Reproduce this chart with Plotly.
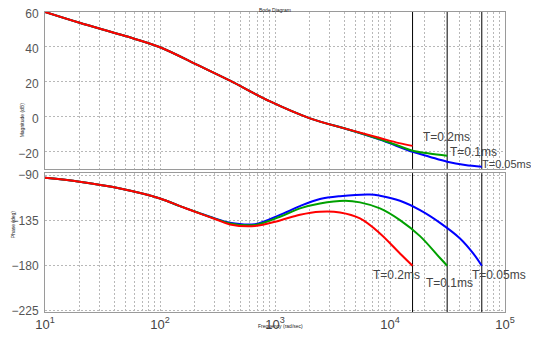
import numpy as np
import plotly.graph_objects as go

# ---------------- data ----------------
T_labels = ["T=0.2ms", "T=0.1ms", "T=0.05ms"]
nyquist_w = [15708, 31416, 62832]          # rad/s (pi/T)

# magnitude (dB)
w_mag_red = [10, 20, 50, 100, 223, 406, 906, 2014, 4487, 8180, 12000, 15708]
mag_red = [60, 53.8, 46.2, 39.8, 28.9, 20.6, 8.7, -1.0, -7.6, -12.3, -15.2, -16.8]

w_mag_green = [10, 20, 50, 100, 223, 406, 906, 2014, 4487, 8180, 12000, 15708, 22000, 31416]
mag_green = [60, 53.8, 46.2, 39.8, 28.9, 20.6, 8.7, -1.0, -7.7, -13.0, -16.9, -19.6, -21.2, -22.4]

w_mag_blue = [10, 20, 50, 100, 223, 406, 906, 2014, 4487, 8180, 15708, 22000, 31416, 45000, 62832]
mag_blue = [60, 53.8, 46.2, 39.8, 28.9, 20.6, 8.7, -1.0, -7.7, -13.2, -20.2, -23.0, -25.9, -27.8, -28.8]

# phase (deg)
w_ph_red = [10, 20, 45, 100, 149, 223, 300, 406, 670, 1104, 1648, 2460, 3673, 5484, 8180, 12210, 15708]
ph_red = [-92.7, -96.6, -103.3, -113.2, -120.8, -128.3, -133.6, -139.0, -140.6, -135.0,
          -129.4, -126.4, -127.1, -133.0, -147.9, -167.8, -180.0]

w_ph_green = [10, 20, 45, 100, 149, 223, 300, 406, 670, 1104, 1648, 2460, 4064, 5484, 8180,
              12210, 18240, 27230, 31416]
ph_green = [-92.7, -96.6, -103.3, -113.2, -120.8, -128.0, -133.2, -138.0, -139.5, -131.4,
            -123.0, -118.1, -115.5, -117.1, -123.1, -134.7, -150.6, -172.4, -180.0]

w_ph_blue = [10, 20, 45, 100, 149, 223, 300, 406, 670, 1104, 1648, 2460, 3673, 6700, 8180,
             12210, 18240, 27230, 40630, 53100, 62832]
ph_blue = [-92.7, -96.6, -103.3, -113.2, -120.8, -128.0, -133.0, -137.4, -138.7, -129.5,
           -120.8, -113.8, -110.9, -109.2, -110.5, -115.5, -124.8, -137.4, -152.9, -168.0, -180.0]

mag_range = [-30, 60]
ph_range = [-226, -88]
mag_ticks = [60, 40, 20, 0, -20]
ph_ticks = [-90, -135, -180, -225]
x_decades = [10, 100, 1000, 10000, 100000]
x_labels = ["10<sup>1</sup>", "10<sup>2</sup>", "10<sup>3</sup>", "10<sup>4</sup>", "10<sup>5</sup>"]

# ---------------- figure ----------------
fig = go.Figure()
FONT = "Liberation Sans, Arial, sans-serif"

series = [
    (w_mag_blue, mag_blue, w_ph_blue, ph_blue, "blue"),
    (w_mag_green, mag_green, w_ph_green, ph_green, "#00a000"),
    (w_mag_red, mag_red, w_ph_red, ph_red, "red"),
]

# nyquist vertical lines
for wn in nyquist_w:
    fig.add_trace(go.Scatter(x=[wn, wn], y=mag_range, mode="lines",
                             line=dict(color="black", width=1),
                             xaxis="x2", yaxis="y2", showlegend=False, hoverinfo="skip"))
    fig.add_trace(go.Scatter(x=[wn, wn], y=ph_range, mode="lines",
                             line=dict(color="black", width=1),
                             xaxis="x", yaxis="y", showlegend=False, hoverinfo="skip"))

for wm, m, wp, p, c in series:
    fig.add_trace(go.Scatter(x=wm, y=m, mode="lines", line=dict(color=c, width=2, shape="spline"),
                             xaxis="x2", yaxis="y2", showlegend=False))
    fig.add_trace(go.Scatter(x=wp, y=p, mode="lines", line=dict(color=c, width=2, shape="spline"),
                             xaxis="x", yaxis="y", showlegend=False))

# minor grid values 2..9 x decade
minor_vals = [k * 10 ** d for d in range(1, 5) for k in range(2, 10)]

GRIDC = "#b8b8b8"
grid = dict(showgrid=True, gridcolor=GRIDC, griddash="2px,2px", gridwidth=1,
            showline=True, mirror=True, linecolor="#9a9a9a", linewidth=1, ticks="",
            zeroline=False, ticklabeloverflow="allow")
xminor = dict(tickmode="array", tickvals=minor_vals, showgrid=True, gridcolor=GRIDC,
              griddash="2px,2px", gridwidth=1, ticks="")

# the page body adds an 8px offset; size and margins compensate for it
fig.update_layout(
    width=531, height=329,
    margin=dict(l=37, r=34, t=4, b=25, autoexpand=False),
    paper_bgcolor="white", plot_bgcolor="white",
    font=dict(family=FONT, size=12, color="#555555"),
    xaxis=dict(type="log", range=[1, 5], domain=[0, 1], anchor="y",
               tickmode="array", tickvals=x_decades, ticktext=x_labels, minor=xminor,
               tickfont=dict(size=13, color="#444444"), ticklabelstandoff=0, **grid),
    xaxis2=dict(type="log", range=[1, 5], domain=[0, 1], anchor="y2", matches="x",
                tickmode="array", tickvals=x_decades, minor=xminor,
                showticklabels=False, **grid),
    yaxis=dict(range=ph_range, domain=[0, 0.463], anchor="x",
               tickmode="array", tickvals=ph_ticks, tickfont=dict(size=12, color="#555555"),
               ticklabelstandoff=3, **grid),
    yaxis2=dict(range=mag_range, domain=[0.477, 1], anchor="x2",
                tickmode="array", tickvals=mag_ticks, tickfont=dict(size=12, color="#555555"),
                ticklabelstandoff=3, ticklabelshift=2, **grid),
)

ann = []
# magnitude labels near curve ends
mag_ends = [mag_red[-1], mag_green[-1], mag_blue[-1]]
mag_shift = [(8, 9, 12), (1, 4, 12), (-2, 3, 11)]
for lab, wn, yv, (dx, dy, fs) in zip(T_labels, nyquist_w, mag_ends, mag_shift):
    ann.append(dict(x=np.log10(wn), y=yv, xref="x2", yref="y2", text=lab, showarrow=False,
                    xanchor="left", yanchor="middle", xshift=dx, yshift=dy,
                    font=dict(size=fs, color="#444444", family=FONT)))
# phase labels
ph_shift = [("right", 9, -9), ("center", 2, -17), ("left", -12, -9)]
for lab, wn, (xa, dx, dy) in zip(T_labels, nyquist_w, ph_shift):
    ann.append(dict(x=np.log10(wn), y=-180, xref="x", yref="y", text=lab, showarrow=False,
                    xanchor=xa, yanchor="middle", xshift=dx, yshift=dy,
                    font=dict(size=12, color="#444444", family=FONT)))
# tiny titles
tiny = dict(size=5, color="#222222", family=FONT)
ann.append(dict(x=0.5, y=1.0, xref="paper", yref="paper", text="Bode Diagram", showarrow=False,
                yanchor="middle", yshift=2, font=tiny))
ann.append(dict(x=-0.061, y=0.707, xref="paper", yref="paper", text="Magnitude (dB)",
                showarrow=False, textangle=-90, font=tiny))
ann.append(dict(x=-0.080, y=0.24, xref="paper", yref="paper", text="Phase (deg)",
                showarrow=False, textangle=-90, font=tiny))
ann.append(dict(x=0.511, y=0, xref="paper", yref="paper", text="Frequency (rad/sec)",
                showarrow=False, yanchor="middle", yshift=-14, font=tiny))
fig.update_layout(annotations=ann)

fig.write_html("out.html")
